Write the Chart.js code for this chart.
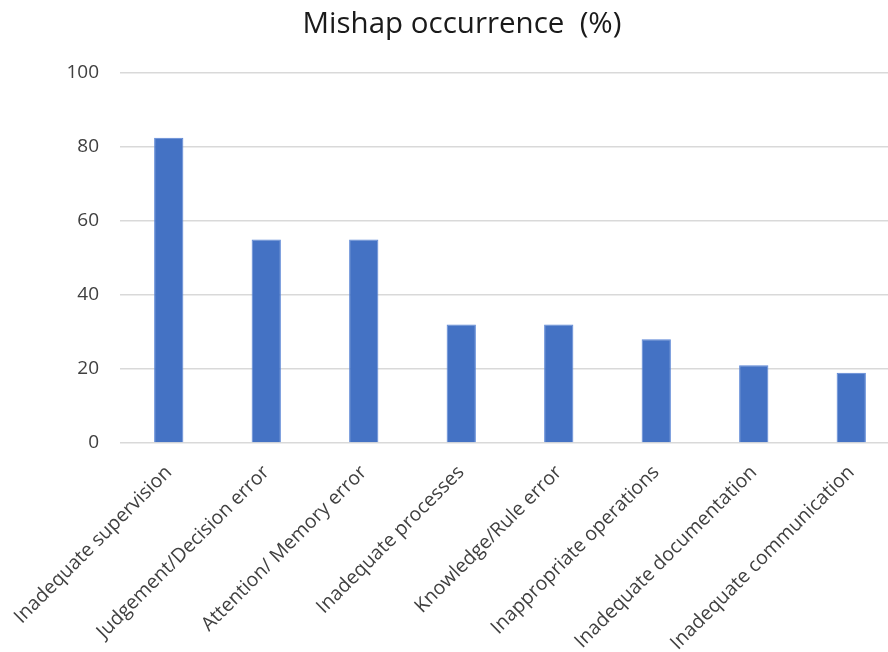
<!DOCTYPE html>
<html>
<head>
<meta charset="utf-8">
<script src="https://cdn.jsdelivr.net/npm/chart.js@4"></script>
<style>
	html, body { margin: 0; padding: 0; background: #fff; overflow: hidden; }
</style>
</head>
<body>
<canvas id="myChart" width="924" height="652"></canvas>
<script>
	const labels = [
		'Inadequate supervision',
		'Judgement/Decision error',
		'Attention/ Memory error',
		'Inadequate processes',
		'Knowledge/Rule error',
		'Inappropriate operations',
		'Inadequate documentation',
		'Inadequate communication',
	];
	const occurrence = [82.5, 55, 55, 32, 32, 28, 21, 19];
	const yTicks = [0, 20, 40, 60, 80, 100];

	const data = {
		labels,
		datasets: [{
			label: 'Mishap occurrence (%)',
			backgroundColor: '#4472C4',
			borderColor: '#5b86d6',
			borderWidth: 1,
			barPercentage: 0.3,
			categoryPercentage: 1,
			data: occurrence,
		}],
	};
	const config = {
		type: 'bar',
		data,
		options: {
			responsive: false,
			animation: false,
			layout: { padding: { left: 24, right: 24, top: 0, bottom: 0 } },
			plugins: {
				legend: { display: false },
				tooltip: { enabled: false },
				title: {
					display: true,
					text: 'Mishap occurrence  (%)',
					color: '#1a1a1a',
					font: { family: 'Open Sans', size: 29.5, weight: 'normal' },
					padding: { top: 7, bottom: 30.5 },
				},
			},
			scales: {
				y: {
					min: 0,
					max: 100,
					afterBuildTicks: (axis) => {
						axis.ticks = yTicks.map((v) => ({ value: v }));
					},
					afterFit: (axis) => { axis.width = 96; },
					grid: { color: '#d9d9d9', lineWidth: 1.5, drawTicks: false },
					border: { display: false },
					ticks: {
						color: '#404040',
						padding: 21,
						font: { family: 'Open Sans', size: 19 },
					},
				},
				x: {
					afterFit: (axis) => { axis.height = 209; },
					grid: { display: false },
					border: { display: false },
					ticks: {
						color: '#404040',
						minRotation: 45,
						maxRotation: 45,
						padding: 10,
						font: { family: 'Open Sans', size: 19.5 },
					},
				},
			},
		},
	};
	new Chart(
		document.getElementById('myChart'),
		config,
	);
</script>
</body>
</html>
